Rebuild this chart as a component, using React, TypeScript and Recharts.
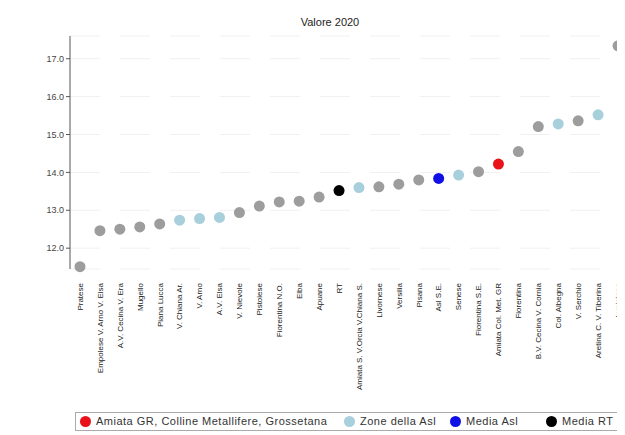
import { ComposedChart, Scatter, XAxis, YAxis, CartesianGrid, Cell } from "recharts";

// zone labels, left to right (sorted by value)
const zones = [
  "Pratese",
  "Empolese V. Arno V. Elsa",
  "A.V. Cecina V. Era",
  "Mugello",
  "Piana Lucca",
  "V. Chiana Ar.",
  "V. Arno",
  "A.V. Elsa",
  "V. Nievole",
  "Pistoiese",
  "Fiorentina N.O.",
  "Elba",
  "Apuane",
  "RT",
  "Amiata S. V.Orcia V.Chiana S.",
  "Livornese",
  "Versilia",
  "Pisana",
  "Asl S.E.",
  "Senese",
  "Fiorentina S.E.",
  "Amiata Col. Met. GR",
  "Fiorentina",
  "B.V. Cecina V. Cornia",
  "Col. Albegna",
  "V. Serchio",
  "Aretina C. V. Tiberina",
  "Lunigiana",
];

const values2020 = [
  11.51, 12.46, 12.5, 12.56, 12.64, 12.74, 12.78, 12.81, 12.94, 13.11, 13.22, 13.24, 13.35, 13.52,
  13.6, 13.62, 13.69, 13.8, 13.84, 13.93, 14.02, 14.22, 14.55, 15.21, 15.28, 15.36, 15.52, 17.34,
];

// zone = other zones, asl = zone della Asl, focus = highlighted zone
const groups = [
  "zone", "zone", "zone", "zone", "zone", "asl", "asl", "asl", "zone", "zone", "zone", "zone", "zone", "rt",
  "asl", "zone", "zone", "zone", "aslMean", "asl", "zone", "focus", "zone", "zone", "asl", "zone", "asl", "zone",
];

const yTicks = [12, 13, 14, 15, 16, 17];

const groupColors: Record<string, string> = {
  zone: "#9d9d9d",
  asl: "#a8cfdc",
  focus: "#e8121a",
  aslMean: "#1010e6",
  rt: "#000000",
};

const legendItems = [
  { label: "Amiata GR, Colline Metallifere, Grossetana", color: groupColors.focus, left: 4 },
  { label: "Zone della Asl", color: groupColors.asl, left: 268 },
  { label: "Media Asl", color: groupColors.aslMean, left: 374 },
  { label: "Media RT", color: groupColors.rt, left: 470 },
];

const chartData = zones.map((name, i) => ({ name, value: values2020[i], group: groups[i] }));

const ZoneTick = (props: any) => {
  const { x, y, payload } = props;
  return (
    <text
      x={x}
      y={y}
      transform={`rotate(-90, ${x}, ${y})`}
      textAnchor="end"
      dy="0.35em"
      fontSize={8}
      fill="#222"
      fontFamily="Liberation Sans, Arial, sans-serif"
    >
      {payload.value}
    </text>
  );
};

const Dot = (props: any) => {
  const { cx, cy, fill } = props;
  if (cx == null || cy == null) return null;
  return <circle cx={cx} cy={cy} r={5.5} fill={fill} />;
};

export default function App() {
  return (
    <div style={{ position: "relative", width: 617, height: 427, overflow: "hidden", fontFamily: "Liberation Sans, Arial, sans-serif" }}>
      <div style={{ position: "absolute", left: 262, top: 8, width: 120, textAlign: "center", fontSize: 11, color: "#222" }}>
        Valore 2020
      </div>
      <ComposedChart
        width={640}
        height={427}
        data={chartData}
        margin={{ top: 28, right: 20, left: 0, bottom: 31 }}
      >
        <CartesianGrid vertical={false} stroke="#f0f0f0" strokeDasharray="30 20" />
        <XAxis
          dataKey="name"
          type="category"
          interval={0}
          height={135}
          axisLine={false}
          tickLine={false}
          tick={<ZoneTick />}
          tickMargin={8}
          padding={{ left: 10, right: 10 }}
        />
        <YAxis
          type="number"
          domain={[11.45, 17.6]}
          ticks={yTicks}
          width={62}
          tickSize={4}
          tickMargin={2}
          tickFormatter={(v: number) => v.toFixed(1)}
          tick={{ fontSize: 9, fill: "#444" }}
          axisLine={{ stroke: "#555" }}
          tickLine={{ stroke: "#555" }}
        />
        <Scatter dataKey="value" isAnimationActive={false} shape={<Dot />}>
          {chartData.map((d, i) => (
            <Cell key={`c-${i}`} fill={groupColors[d.group]} />
          ))}
        </Scatter>
      </ComposedChart>
      <div
        style={{
          position: "absolute",
          left: 67,
          top: 404,
          width: 547,
          height: 19,
          border: "1px solid #aaa",
          fontSize: 11,
          letterSpacing: 0.5,
          color: "#333",
          boxSizing: "border-box",
        }}
      >
        {legendItems.map((it) => (
          <span
            key={it.label}
            style={{ position: "absolute", left: it.left, top: 2, display: "flex", alignItems: "center", whiteSpace: "nowrap" }}
          >
            <span style={{ width: 11, height: 11, borderRadius: "50%", background: it.color, marginRight: 5, display: "inline-block" }} />
            {it.label}
          </span>
        ))}
      </div>
    </div>
  );
}
